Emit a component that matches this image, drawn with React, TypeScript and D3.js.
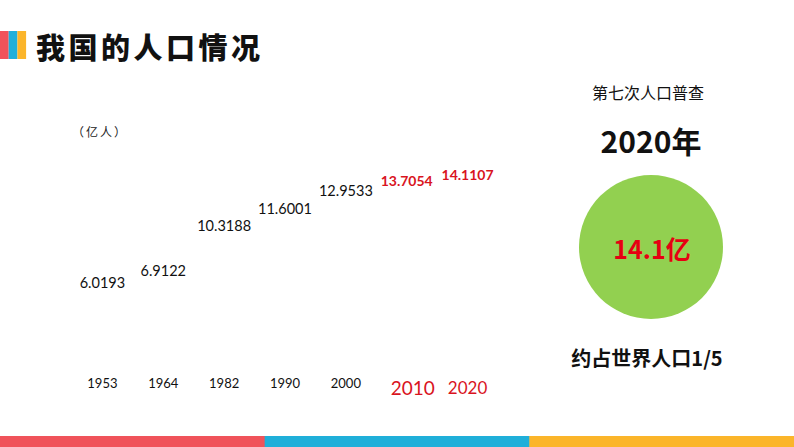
import React from "react";
import * as d3 from "d3";

const years = ["1953", "1964", "1982", "1990", "2000", "2010", "2020"];
const population = [6.0193, 6.9122, 10.3188, 11.6001, 12.9533, 13.7054, 14.1107];
const highlighted = [false, false, false, false, false, true, true];
const stripeColors = ["#f0535a", "#1fafd9", "#fbb52a"];

const W = 794;
const H = 447;
const LATIN = "Lato, 'Open Sans', sans-serif";
const CJK = "'Noto Sans CJK SC', 'Noto Sans', sans-serif";
const RED = "#d9141e";

export default function App() {
  const x = d3.scaleBand<string>().domain(years).range([72, 498]).padding(0);
  const y = d3.scaleLinear().domain([0, 15]).range([362, 163]);
  const stripe = d3.scaleBand<number>().domain([0, 1, 2]).range([0, W]);

  return (
    <svg
      width={W}
      height={H}
      style={{ position: "absolute", left: 0, top: 0, background: "#fff" }}
    >
      {/* title icon */}
      {stripeColors.map((c, i) => (
        <rect key={i} x={i * 8.7} y={31} width={8.7} height={28} fill={c} />
      ))}
      <text
        x={36}
        y={46}
        dominantBaseline="central"
        fontFamily={CJK}
        fontWeight={900}
        fontSize={29}
        letterSpacing={3.5}
        fill="#111"
      >
        我国的人口情况
      </text>

      {/* unit */}
      <text x={72} y={131} dominantBaseline="central" fontFamily={CJK} fontSize={12} letterSpacing={2} fill="#222">
        （亿人）
      </text>

      {/* value labels */}
      {population.map((v, i) => (
        <text
          key={"v" + i}
          x={(x(years[i]) as number) + x.bandwidth() / 2}
          y={y(v)}
          textAnchor="middle"
          dominantBaseline="central"
          fontFamily={LATIN}
          fontSize={highlighted[i] ? 14 : 14.5}
          fontWeight={highlighted[i] ? 700 : 400}
          fill={highlighted[i] ? RED : "#111"}
        >
          {v.toFixed(4)}
        </text>
      ))}

      {/* year labels */}
      {years.map((yr, i) => (
        <text
          key={"y" + i}
          x={(x(yr) as number) + x.bandwidth() / 2 + (i === 5 ? 6 : 0)}
          y={highlighted[i] ? 387 : 383}
          textAnchor="middle"
          dominantBaseline="central"
          fontFamily={LATIN}
          fontSize={highlighted[i] ? (i === 5 ? 19 : 17) : 13}
          fill={highlighted[i] ? RED : "#111"}
        >
          {yr}
        </text>
      ))}

      {/* right panel */}
      <text x={648} y={92} textAnchor="middle" dominantBaseline="central" fontFamily={CJK} fontSize={16} fill="#111">
        第七次人口普查
      </text>
      <text x={651} y={140} textAnchor="middle" dominantBaseline="central" fontFamily={CJK} fontWeight={700} fontSize={30} fill="#111">
        2020年
      </text>
      <circle cx={651} cy={247} r={72} fill="#92d050" />
      <text x={652} y={248} textAnchor="middle" dominantBaseline="central" fontFamily={CJK} fontWeight={700} fontSize={25} fill="#e60012">
        14.1亿
      </text>
      <text x={647} y={357} textAnchor="middle" dominantBaseline="central" fontFamily={CJK} fontWeight={700} fontSize={20} fill="#111">
        约占世界人口1/5
      </text>

      {/* bottom stripe */}
      {stripeColors.map((c, i) => (
        <rect key={"s" + i} x={stripe(i)} y={436} width={stripe.bandwidth() + 0.5} height={11} fill={c} />
      ))}
    </svg>
  );
}
